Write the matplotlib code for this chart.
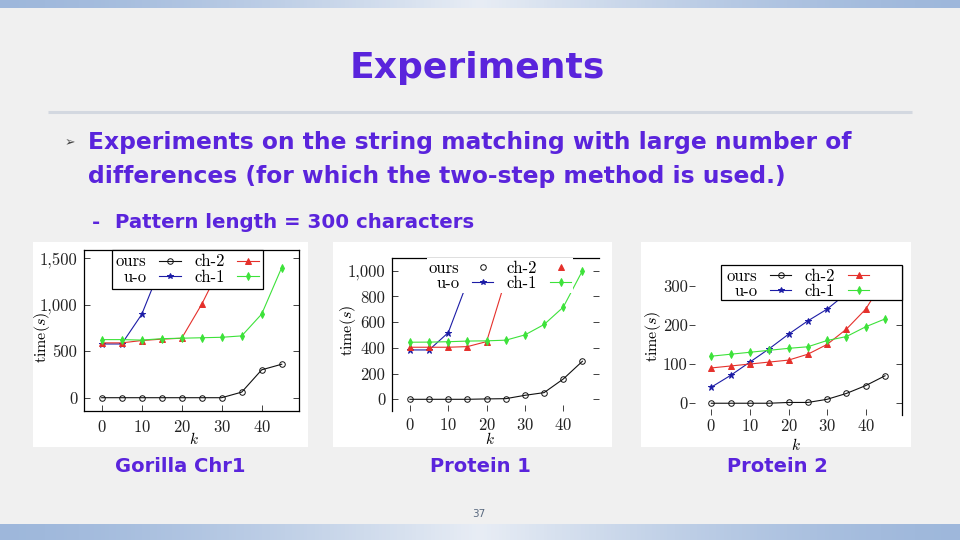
import numpy as np
import matplotlib
matplotlib.use("Agg")
import matplotlib.pyplot as plt
from matplotlib.lines import Line2D
from matplotlib.patches import Rectangle
from matplotlib.ticker import FuncFormatter
from matplotlib import markers as mmarkers

plt.rcParams["mathtext.fontset"] = "cm"
plt.rcParams["axes.formatter.use_mathtext"] = True

# k values (number of differences)
K = [0, 5, 10, 15, 20, 25, 30, 35, 40, 45]

# Gorilla Chr1, time in seconds
GORILLA_OURS = [0, 0, 0, 0, 0, 0, 0, 60, 300, 360]
GORILLA_UO = [578, 578, 896, 1430]
GORILLA_CH2 = [590, 590, 615, 630, 640, 1005, 1435]
GORILLA_CH1 = [625, 625, 620, 635, 640, 645, 650, 665, 900, 1400]

# Protein 1
PROT1_OURS = [0, 0, 0, 0, 3, 5, 31, 52, 158, 296]
PROT1_UO = [384, 384, 519, 914]
PROT1_CH2 = [405, 405, 405, 410, 449, 936]
PROT1_CH1 = [444, 445, 448, 453, 455, 460, 501, 582, 717, 1000]

# Protein 2
PROT2_OURS = [0, 0, 0, 0, 2, 2, 10, 25, 45, 70]
PROT2_UO = [41, 71, 105, 139, 176, 210, 240, 280, 320, 360]
PROT2_CH2 = [90, 95, 100, 105, 110, 125, 150, 189, 240, 319]
PROT2_CH1 = [120, 125, 130, 135, 140, 144, 160, 170, 195, 215]

SERIES_NAMES = ["ours", "u-o", "ch-2", "ch-1"]
CAPTIONS = ["Gorilla Chr1", "Protein 1", "Protein 2"]

PURPLE = "#5a24dc"
COLORS = {"ours": "#111111", "u-o": "#1c1ca6", "ch-2": "#e5302b", "ch-1": "#3de23a"}
MARKERS = {"ours": "o", "u-o": "*", "ch-2": "^", "ch-1": "d"}
FIG_W, FIG_H = 960, 540
CM = "cmr10"
SANS = "DejaVu Sans"


def fig_box(left, top, right, bottom):
    return [left / FIG_W, 1 - bottom / FIG_H, (right - left) / FIG_W, (bottom - top) / FIG_H]


def draw_series(ax, name, values):
    face = "none" if name == "ours" else COLORS[name]
    ax.plot(K[:len(values)], values, color=COLORS[name], lw=0.8, marker=MARKERS[name],
            ms=4 if name != "u-o" else 4.5, mfc=face, mec=COLORS[name], mew=0.7, zorder=3)


def style_axes(ax, xlim, ylim, yticks, spines, left_dir, xpad):
    ax.set_xlim(*xlim)
    ax.set_ylim(*ylim)
    ax.set_xticks([0, 10, 20, 30, 40])
    ax.set_yticks(yticks)
    ax.yaxis.set_major_formatter(FuncFormatter(lambda v, p: f"{int(v):,}"))
    for side in ["left", "right", "top", "bottom"]:
        ax.spines[side].set_visible(side in spines)
        ax.spines[side].set_linewidth(0.9)
    ax.tick_params(axis="both", direction="in", length=4, width=0.6, labelsize=12,
                   left=True, right=True, top=False, bottom=True,
                   labelleft=True, labelright=False, colors="#222222")
    ax.tick_params(axis="y", pad=5)
    ax.tick_params(axis="x", pad=xpad)
    for t in ax.yaxis.get_major_ticks():
        t.tick1line.set_marker(mmarkers.TICKLEFT if left_dir == "out" else mmarkers.TICKRIGHT)
    for lab in ax.get_xticklabels() + ax.get_yticklabels():
        lab.set_fontfamily(CM)
    ax.set_xlabel(r"$k$", fontsize=11)
    ax.set_ylabel(r"$\mathrm{time}(s)$", fontsize=11.5)
    ax.set_facecolor("white")


def add_legend(fig, ax, handles, left, top, edge, pad=0.3, face="white"):
    leg = ax.legend(handles=handles, labels=SERIES_NAMES, ncol=2, loc="upper left",
                    bbox_to_anchor=(left / FIG_W, 1 - top / FIG_H),
                    bbox_transform=fig.transFigure, borderaxespad=0, markerfirst=False,
                    prop={"family": CM, "size": 12}, handlelength=1.3, handletextpad=0.75,
                    columnspacing=0.8, labelspacing=0.0, borderpad=pad,
                    fancybox=False, framealpha=1, facecolor=face, edgecolor=edge)
    leg.get_frame().set_linewidth(0.9)
    return leg


def line_handles(marker_only=()):
    out = []
    for name in SERIES_NAMES:
        face = "none" if name == "ours" else COLORS[name]
        out.append(Line2D([], [], color=COLORS[name], lw=0.8, marker=MARKERS[name], ms=4,
                          mfc=face, mec=COLORS[name], mew=0.7,
                          linestyle="none" if name in marker_only else "-"))
    return out


fig = plt.figure(figsize=(FIG_W / 100, FIG_H / 100), dpi=100)
fig.patch.set_facecolor("#f0f0f0")

bg = fig.add_axes([0, 0, 1, 1], zorder=0)
bg.set_xlim(0, FIG_W)
bg.set_ylim(FIG_H, 0)
bg.axis("off")

# blue gradient bars at top and bottom of the slide
grad = 1 - np.abs(np.linspace(-1, 1, 256))
edge = np.array([0.62, 0.72, 0.86])
mid = np.array([0.91, 0.93, 0.96])
bar = edge[None, :] + (mid - edge)[None, :] * grad[:, None] ** 1.5
bg.imshow(bar[None, :, :], extent=[0, FIG_W, 8.5, 0], aspect="auto", zorder=1)
bg.imshow(bar[None, :, :], extent=[0, FIG_W, FIG_H, 524], aspect="auto", zorder=1)

# title rule
bg.plot([48, 912], [111.5, 111.5], color="#d3d8e0", lw=2.2, solid_capstyle="butt")

# white panels behind the charts
for l, t, r, b in [(33, 242, 308, 447), (333, 242, 612, 447), (641, 242, 911, 447)]:
    bg.add_patch(Rectangle((l, t), r - l, b - t, facecolor="white", edgecolor="none", zorder=2))

bg.text(477, 68, "Experiments", color=PURPLE, fontsize=26, fontweight="bold",
        family=SANS, ha="center", va="center")
bg.text(70, 143, "\u27a2", color="#444444", fontsize=9, ha="center", va="center",
        family=SANS)
bg.text(88, 143, "Experiments on the string matching with large number of", color=PURPLE,
        fontsize=16.8, fontweight="bold", family=SANS, ha="left", va="center")
bg.text(88, 176, "differences (for which the two-step method is used.)", color=PURPLE,
        fontsize=16.8, fontweight="bold", family=SANS, ha="left", va="center")
bg.text(92, 222, "-", color=PURPLE, fontsize=14.2, fontweight="bold", family=SANS,
        ha="left", va="center")
bg.text(115, 222, "Pattern length = 300 characters", color=PURPLE, fontsize=14.2,
        fontweight="bold", family=SANS, ha="left", va="center")
for cx, cap in zip([180, 480, 777], CAPTIONS):
    bg.text(cx, 466, cap, color=PURPLE, fontsize=14, fontweight="bold", family=SANS,
            ha="center", va="center")
bg.text(479, 514, "37", color="#5a6a80", fontsize=7.5, ha="center", va="center")

# Gorilla Chr1
ax1 = fig.add_axes(fig_box(84.3, 250, 299.3, 411), zorder=3)
for name, vals in zip(SERIES_NAMES, [GORILLA_OURS, GORILLA_UO, GORILLA_CH2, GORILLA_CH1]):
    draw_series(ax1, name, vals)
style_axes(ax1, (-4.35, 49.4), (-143, 1589), [0, 500, 1000, 1500],
           ["left", "right", "top", "bottom"], "in", 6)
ax1.yaxis.set_label_coords(-0.15, 0.46)
ax1.xaxis.set_label_coords(0.51, -0.125)
add_legend(fig, ax1, line_handles(), 111.7, 250, "black", pad=0.25)

# Protein 1
ax2 = fig.add_axes(fig_box(392.3, 258.3, 599.3, 411), zorder=3)
for name, vals in zip(SERIES_NAMES, [PROT1_OURS, PROT1_UO, PROT1_CH2, PROT1_CH1]):
    draw_series(ax2, name, vals)
style_axes(ax2, (-4.6, 49.4), (-91, 1097), [0, 200, 400, 600, 800, 1000],
           ["left", "top"], "in", 4)
ax2.yaxis.set_label_coords(-0.165, 0.53)
ax2.xaxis.set_label_coords(0.47, -0.13)
add_legend(fig, ax2, line_handles(marker_only=("ours", "ch-2")), 426.5, 258.5, "none", pad=0.12)

# Protein 2
ax3 = fig.add_axes(fig_box(694.7, 266, 902, 415), zorder=3)
for name, vals in zip(SERIES_NAMES, [PROT2_OURS, PROT2_UO, PROT2_CH2, PROT2_CH1]):
    draw_series(ax3, name, vals)
style_axes(ax3, (-4.3, 49.4), (-30, 350), [0, 100, 200, 300],
           ["right"], "out", 2)
ax3.yaxis.set_label_coords(-0.152, 0.525)
ax3.xaxis.set_label_coords(0.49, -0.148)
# legend box reaches over to the right spine
ax3.add_patch(Rectangle((720.7 / FIG_W, 1 - 299.5 / FIG_H), (902 - 720.7) / FIG_W, 34.5 / FIG_H,
                        transform=fig.transFigure, facecolor="white", edgecolor="black",
                        lw=0.9, zorder=4, clip_on=False))
add_legend(fig, ax3, line_handles(), 724, 266, "none", pad=0.15, face="none")

fig.savefig("out.png", dpi=100, facecolor=fig.get_facecolor())
